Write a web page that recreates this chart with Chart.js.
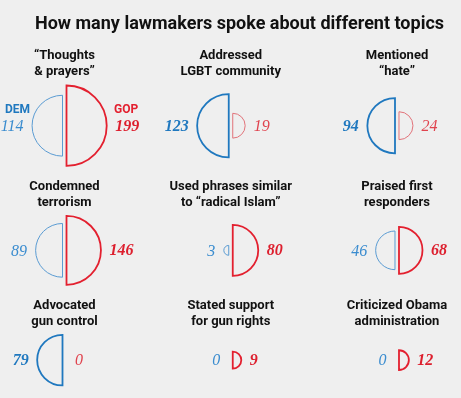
<!DOCTYPE html>
<html>
<head>
<meta charset="utf-8">
<script src="https://cdn.jsdelivr.net/npm/chart.js@4.4.1/dist/chart.umd.min.js"></script>
<style>
  html, body { margin: 0; padding: 0; background: #efefef; }
  #wrap { width: 461px; height: 398px; }
</style>
</head>
<body>
<div id="wrap"><canvas id="chart"></canvas></div>
<script>
// データ
const TITLE = 'How many lawmakers spoke about different topics';
const TOPICS = [
  ['“Thoughts', '& prayers”'],
  ['Addressed', 'LGBT community'],
  ['Mentioned', '“hate”'],
  ['Condemned', 'terrorism'],
  ['Used phrases similar', 'to “radical Islam”'],
  ['Praised first', 'responders'],
  ['Advocated', 'gun control'],
  ['Stated support', 'for gun rights'],
  ['Criticized Obama', 'administration']
];
const DEM = [114, 123, 94, 89, 3, 46, 79, 0, 0];
const GOP = [199, 19, 24, 146, 80, 68, 0, 9, 12];
const PARTY_LABELS = ['DEM', 'GOP'];

// 見た目
const K = 2.85;          // 半径 = K * sqrt(値) (面積比例)
const GAP = 2;           // 中央の隙間の半分
const NUM_GAP = 8.5;
const COLORS = {
  dem: { strong: '#1f78bf', light: '#5b9cd3', text: '#1f78bf', textLight: '#3a8ccf' },
  gop: { strong: '#e3202f', light: '#e2737a', text: '#dd1f2e', textLight: '#e0434e' }
};
const SANS = 'Roboto, "Liberation Sans", sans-serif';
const SERIF = '"Liberation Serif", "DejaVu Serif", serif';

const radius = v => K * Math.sqrt(v);

// 行の縦位置（タイトル＋最大半径で流し込み）
const rowTitleY = [];
const rowCenterY = [];
{
  let y = 56;
  for (let row = 0; row < 3; row++) {
    const idx = [0, 1, 2].map(c => row * 3 + c);
    const maxR = Math.max(...idx.map(i => Math.max(radius(DEM[i]), radius(GOP[i]))));
    rowTitleY.push(y);
    const cy = y + 29.5 + maxR;
    rowCenterY.push(cy);
    y = cy + maxR + 20.5;
  }
}

const points = vals => vals.map((v, i) => ({ x: i % 3, y: rowCenterY[Math.floor(i / 3)], r: radius(v), v }));

const halfDiscs = {
  id: 'halfDiscs',
  beforeDraw(chart) {
    const { ctx, width, height } = chart;
    ctx.save();
    ctx.fillStyle = '#efefef';
    ctx.fillRect(0, 0, width, height);
    ctx.restore();
  },
  afterDatasetsDraw(chart) {
    const ctx = chart.ctx;
    ctx.save();
    chart.data.datasets.forEach((ds, di) => {
      const meta = chart.getDatasetMeta(di);
      const side = di === 0 ? -1 : 1;
      const mine = di === 0 ? DEM : GOP;
      const other = di === 0 ? GOP : DEM;
      const col = di === 0 ? COLORS.dem : COLORS.gop;
      meta.data.forEach((el, i) => {
        const r = el.options.radius;
        if (!(r > 0)) return;
        const win = mine[i] > other[i];
        const x = el.x + side * GAP;
        ctx.beginPath();
        ctx.moveTo(x, el.y - r);
        ctx.arc(x, el.y, r, -Math.PI / 2, Math.PI / 2, side < 0);
        ctx.closePath();
        ctx.lineWidth = win ? 1.8 : 1;
        ctx.strokeStyle = win ? col.strong : col.light;
        ctx.stroke();
      });
    });
    ctx.restore();
  },
  afterDraw(chart) {
    const ctx = chart.ctx;
    const xs = chart.scales.x, ys = chart.scales.y;
    ctx.save();

    // タイトル
    ctx.fillStyle = '#111';
    ctx.font = `bold 18px ${SANS}`;
    ctx.textAlign = 'center';
    ctx.textBaseline = 'alphabetic';
    ctx.fillText(TITLE, 239.5, 28.5);

    TOPICS.forEach((lines, i) => {
      const c = i % 3, row = Math.floor(i / 3);
      const cx = xs.getPixelForValue(c);
      const ty = ys.getPixelForValue(rowTitleY[row]);
      ctx.fillStyle = '#111';
      ctx.font = `bold 13px ${SANS}`;
      ctx.textAlign = 'center';
      ctx.textBaseline = 'middle';
      lines.forEach((t, li) => ctx.fillText(t, cx, ty + li * 16));

      const cy = ys.getPixelForValue(rowCenterY[row]) + 1;
      const d = DEM[i], g = GOP[i];
      // DEM
      ctx.textAlign = 'right';
      ctx.font = `${d > g ? 'bold ' : ''}italic 16px ${SERIF}`;
      ctx.fillStyle = d > g ? COLORS.dem.text : COLORS.dem.textLight;
      const dx = cx - GAP - radius(d) - NUM_GAP;
      ctx.fillText(String(d), dx, cy);
      // GOP
      ctx.textAlign = 'left';
      ctx.font = `${g > d ? 'bold ' : ''}italic 16px ${SERIF}`;
      ctx.fillStyle = g > d ? COLORS.gop.text : COLORS.gop.textLight;
      const gx = cx + GAP + radius(g) + NUM_GAP;
      ctx.fillText(String(g), gx, cy);

      if (i === 0) {
        ctx.font = `bold 12px ${SANS}`;
        ctx.textAlign = 'center';
        ctx.fillStyle = COLORS.dem.strong;
        ctx.fillText(PARTY_LABELS[0], dx - 6, cy - 17);
        ctx.fillStyle = COLORS.gop.strong;
        ctx.fillText(PARTY_LABELS[1], gx + 11, cy - 17);
      }
    });
    ctx.restore();
  }
};

const chart = new Chart(document.getElementById('chart'), {
  type: 'bubble',
  data: {
    datasets: [
      { label: PARTY_LABELS[0], data: points(DEM), backgroundColor: 'rgba(0,0,0,0)', borderColor: 'rgba(0,0,0,0)', borderWidth: 0 },
      { label: PARTY_LABELS[1], data: points(GOP), backgroundColor: 'rgba(0,0,0,0)', borderColor: 'rgba(0,0,0,0)', borderWidth: 0 }
    ]
  },
  options: {
    animation: false, responsive: true, maintainAspectRatio: false,
    layout: { padding: 0, autoPadding: false },
    scales: {
      x: { type: 'linear', display: false, min: -0.388, max: 2.385 },
      y: { type: 'linear', display: false, min: 0, max: 398, reverse: true }
    },
    plugins: { legend: { display: false }, tooltip: { enabled: false }, title: { display: false } },
    events: []
  },
  plugins: [halfDiscs]
});
</script>
</body>
</html>
